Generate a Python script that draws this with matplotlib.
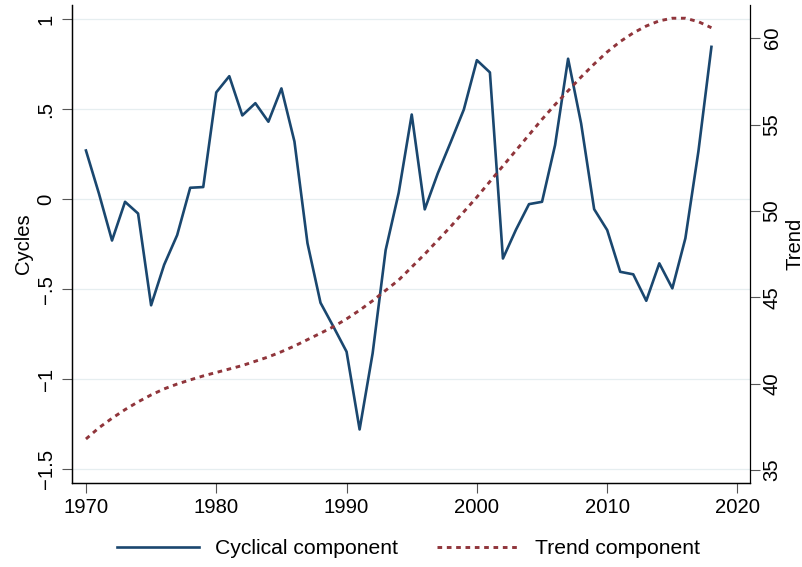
import matplotlib
matplotlib.use("Agg")
import matplotlib.pyplot as plt

# HP filter decomposition
years = list(range(1970, 2019))
cycle = [0.27, 0.03, -0.23, -0.015, -0.08, -0.59, -0.365, -0.20, 0.063, 0.067,
         0.593, 0.683, 0.465, 0.533, 0.43, 0.615, 0.32, -0.245, -0.576, -0.71,
         -0.848, -1.28, -0.857, -0.283, 0.035, 0.47, -0.057, 0.143, 0.318, 0.498,
         0.772, 0.704, -0.33, -0.17, -0.028, -0.015, 0.30, 0.78, 0.42, -0.056,
         -0.172, -0.404, -0.418, -0.565, -0.357, -0.496, -0.218, 0.265, 0.846]
trend = [36.8, 37.45, 38.0, 38.5, 38.95, 39.35, 39.7, 39.98, 40.22, 40.45,
         40.65, 40.85, 41.05, 41.3, 41.55, 41.85, 42.18, 42.55, 42.92, 43.3,
         43.75, 44.25, 44.8, 45.4, 46.0, 46.75, 47.5, 48.3, 49.1, 49.95,
         50.8, 51.7, 52.6, 53.5, 54.4, 55.3, 56.15, 56.95, 57.75, 58.5,
         59.2, 59.8, 60.3, 60.7, 61.0, 61.15, 61.15, 60.95, 60.6]

x_ticks = [1970, 1980, 1990, 2000, 2010, 2020]
left_ticks = [-1.5, -1, -0.5, 0, 0.5, 1]
left_labels = ["\u22121.5", "\u22121", "\u2212.5", "0", ".5", "1"]
right_ticks = [35, 40, 45, 50, 55, 60]

navy = "#1a476f"
maroon = "#90353b"

plt.rcParams["font.family"] = ["Liberation Sans", "DejaVu Sans"]
plt.rcParams["font.size"] = 14.6

fig = plt.figure(figsize=(8.03, 5.67), dpi=100)
ax1 = fig.add_axes([0.090, 0.148, 0.844, 0.843])
ax2 = ax1.twinx()

l1, = ax1.plot(years, cycle, color=navy, lw=1.9, label="Cyclical component")
l2, = ax2.plot(years, trend, color=maroon, lw=2.1, linestyle=(0, (1.6, 1.6)),
               label="Trend component")

ax1.set_xlim(1968.95, 2020.96)
ax1.set_ylim(-1.578, 1.078)
ax2.set_ylim(34.248, 61.91)

ax1.set_xticks(x_ticks)
ax1.set_yticks(left_ticks)
ax1.set_yticklabels(left_labels)
ax2.set_yticks(right_ticks)

ax1.grid(axis="y", color="#e6eef0", lw=0.9)
ax1.set_axisbelow(True)

for ax in (ax1, ax2):
    ax.spines["top"].set_visible(False)
    for s in ax.spines.values():
        s.set_linewidth(0.9)
    ax.tick_params(length=7, width=0.8, color="#555555")
ax1.spines["right"].set_visible(False)
ax1.tick_params(axis="x", pad=4)
ax1.tick_params(axis="y", labelrotation=90, pad=5)
ax2.tick_params(axis="y", labelrotation=90, pad=2)
for lab in ax1.get_yticklabels() + ax2.get_yticklabels():
    lab.set_verticalalignment("center")

ax1.set_ylabel("Cycles")
ax2.set_ylabel("Trend")
ax1.yaxis.set_label_coords(-0.058, 0.5)
ax2.yaxis.set_label_coords(1.052, 0.5)

fig.legend(handles=[l1, l2], loc="center", bbox_to_anchor=(0.509, 0.032),
           ncol=2, frameon=False, handlelength=3.9, handletextpad=0.75,
           columnspacing=1.85, fontsize=15.2)

fig.savefig("out.png", dpi=100)
